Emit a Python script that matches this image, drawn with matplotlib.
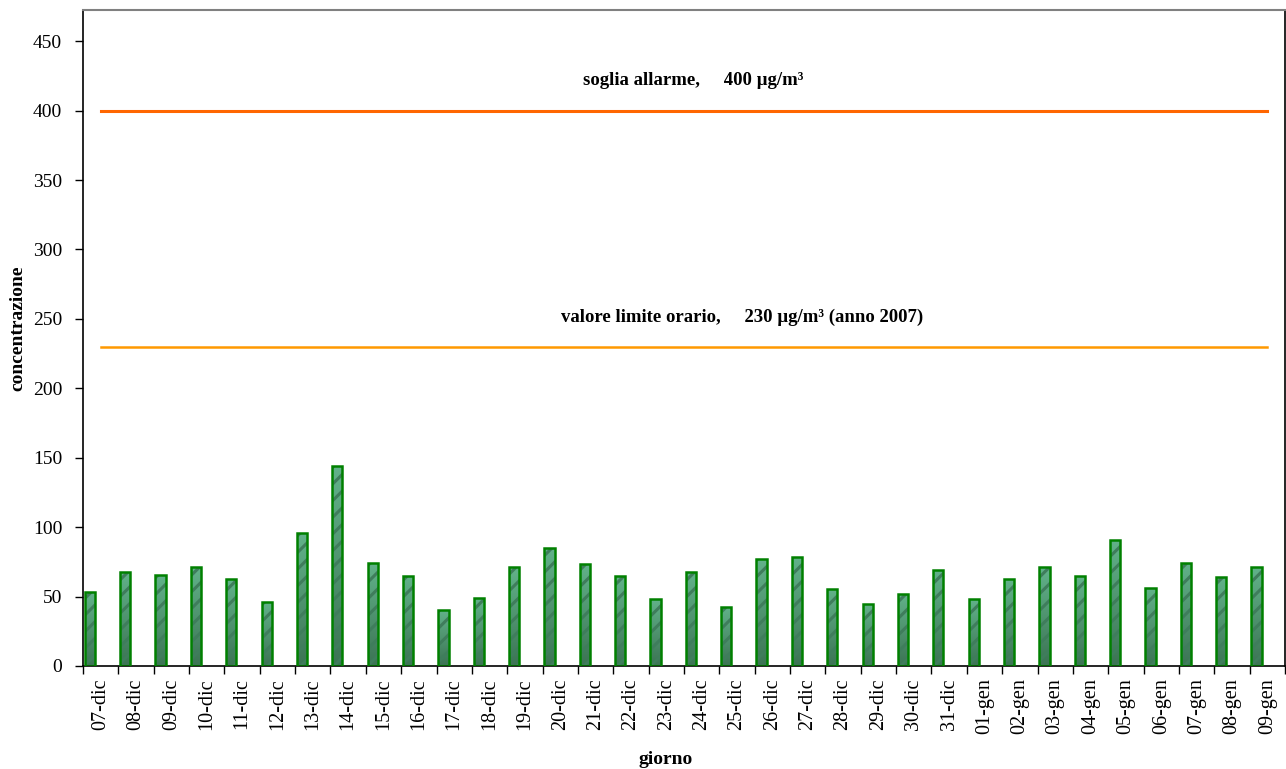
import matplotlib
matplotlib.use("Agg")
import matplotlib.pyplot as plt
from matplotlib.colors import LinearSegmentedColormap
import numpy as np

days = ["07-dic", "08-dic", "09-dic", "10-dic", "11-dic", "12-dic", "13-dic", "14-dic",
        "15-dic", "16-dic", "17-dic", "18-dic", "19-dic", "20-dic", "21-dic", "22-dic",
        "23-dic", "24-dic", "25-dic", "26-dic", "27-dic", "28-dic", "29-dic", "30-dic",
        "31-dic", "01-gen", "02-gen", "03-gen", "04-gen", "05-gen", "06-gen", "07-gen",
        "08-gen", "09-gen"]
values = [53, 68, 65.5, 71, 62.5, 46, 95.5, 144,
          74.5, 65, 40.5, 49, 71, 85, 73.5, 64.5,
          48.5, 68, 42.5, 77, 78.5, 55.5, 44.5, 52,
          69.5, 48.5, 63, 71, 64.5, 91, 56.5, 74.5,
          64, 71]
alarm_threshold = 400
hourly_limit = 230
alarm_label = "soglia allarme,     400 µg/m³"
limit_label = "valore limite orario,     230 µg/m³ (anno 2007)"

plt.rcParams['font.family'] = ['Liberation Serif', 'DejaVu Serif']
plt.rcParams['hatch.linewidth'] = 2.2

W, H = 1286, 769
fig = plt.figure(figsize=(W / 100, H / 100), dpi=100)
ax = fig.add_axes([83 / W, (H - 666) / H, (1285 - 83) / W, (666 - 10) / H])

x = np.arange(len(days))
left = x - 0.5 + 0.05
bw = 0.29

ax.set_xlim(-0.5, len(days) - 0.5)
ax.set_ylim(0, 472.5)

# gradient fill, clipped to each bar
cmap = LinearSegmentedColormap.from_list("g", ["#3C7454", "#62B28A"])
grad = np.linspace(0, 1, 64).reshape(-1, 1)
bars = ax.bar(left, values, width=bw, align='edge', color='#4E9A72',
              linewidth=0, zorder=2)
for b in bars:
    x0, y0 = b.get_x(), b.get_y()
    im = ax.imshow(grad, extent=[x0, x0 + b.get_width(), y0, y0 + b.get_height()],
                   origin='lower', aspect='auto', cmap=cmap, zorder=2.1,
                   interpolation='bilinear')
    im.set_clip_path(b)
# hatch stripes
ax.bar(left, values, width=bw, align='edge', facecolor='none',
       hatch='//', edgecolor='#3F7D5C', linewidth=0, zorder=2.5)
# green border
ax.bar(left, values, width=bw, align='edge', fill=False,
       edgecolor='#008000', linewidth=1.8, zorder=3)

ax.plot([x[0], x[-1]], [alarm_threshold, alarm_threshold], color='#FF6600', lw=2.2, zorder=4)
ax.plot([x[0], x[-1]], [hourly_limit, hourly_limit], color='#FF9900', lw=1.8, zorder=4)

ax.text(16.75, 422, alarm_label, ha='center', va='center', fontsize=13.5, fontweight='bold')
ax.text(18.15, 251, limit_label, ha='center', va='center', fontsize=13.5, fontweight='bold')

ax.set_yticks(np.arange(0, 451, 50))
ax.tick_params(axis='y', labelsize=14, length=6, width=1, direction='out', pad=9)
ax.set_xticks(x)
ax.set_xticklabels(days, rotation=90, fontsize=14.5)
ax.set_xticks(np.arange(-0.5, len(days) - 0.4, 1), minor=True)
ax.tick_params(axis='x', which='major', length=0, pad=9)
ax.tick_params(axis='x', which='minor', length=6, width=1, direction='out')

for s in ['left', 'bottom', 'right']:
    ax.spines[s].set_color('black')
    ax.spines[s].set_linewidth(1.2)
ax.spines['top'].set_color('#808080')
ax.spines['top'].set_linewidth(1.5)

fig.text(18 / W, 1 - 328 / H, "concentrazione", rotation=90, ha='center', va='center',
         fontsize=14, fontweight='bold')
fig.text(666 / W, 1 - 759 / H, "giorno", ha='center', va='center',
         fontsize=14, fontweight='bold')

fig.savefig("out.png", dpi=100)
